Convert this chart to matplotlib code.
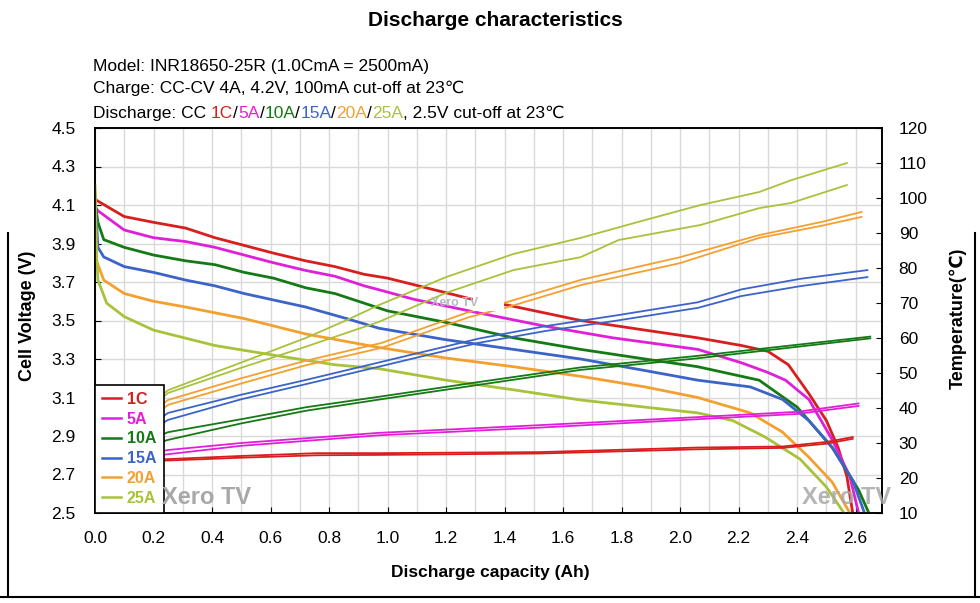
import numpy as np
import matplotlib
matplotlib.use("Agg")
import matplotlib.pyplot as plt
from matplotlib.lines import Line2D
from matplotlib.patches import Rectangle

plt.rcParams['font.family'] = ['Liberation Sans', 'DejaVu Sans']

labels = ['1C', '5A', '10A', '15A', '20A', '25A']
colors = ['#d81e1e', '#e020d8', '#157a15', '#3c64c8', '#f4a030', '#a8c23c']

# discharge voltage (Ah, V)
v1c_x = [0.0, 0.01, 0.1, 0.2, 0.31, 0.41, 0.51, 0.61, 0.72, 0.82, 0.92, 1.0, 1.29, 1.41, 1.66, 1.88, 2.06, 2.21, 2.30, 2.37, 2.44, 2.50, 2.54, 2.57, 2.59]
v1c_y = [4.13, 4.12, 4.04, 4.01, 3.98, 3.93, 3.89, 3.85, 3.81, 3.78, 3.74, 3.72, 3.61, 3.58, 3.50, 3.45, 3.41, 3.37, 3.34, 3.27, 3.12, 2.98, 2.84, 2.69, 2.50]
v5_x = [0.0, 0.01, 0.1, 0.2, 0.31, 0.41, 0.51, 0.61, 0.72, 0.82, 0.92, 0.97, 1.09, 1.31, 1.54, 1.77, 2.06, 2.21, 2.30, 2.36, 2.44, 2.52, 2.58, 2.61]
v5_y = [4.09, 4.07, 3.97, 3.93, 3.91, 3.88, 3.84, 3.80, 3.76, 3.73, 3.68, 3.66, 3.61, 3.54, 3.47, 3.41, 3.35, 3.28, 3.23, 3.19, 3.09, 2.88, 2.69, 2.50]
v10_x = [0.0, 0.01, 0.03, 0.1, 0.2, 0.31, 0.41, 0.51, 0.61, 0.72, 0.82, 0.92, 1.0, 1.2, 1.43, 1.66, 1.88, 2.06, 2.21, 2.27, 2.40, 2.52, 2.61, 2.645]
v10_y = [4.12, 4.01, 3.92, 3.88, 3.84, 3.81, 3.79, 3.75, 3.72, 3.67, 3.64, 3.59, 3.55, 3.49, 3.41, 3.35, 3.30, 3.26, 3.21, 3.19, 3.05, 2.84, 2.62, 2.50]
v15_x = [0.0, 0.01, 0.03, 0.1, 0.2, 0.31, 0.41, 0.51, 0.72, 0.86, 0.97, 1.2, 1.43, 1.66, 1.88, 2.06, 2.24, 2.35, 2.44, 2.52, 2.59, 2.63]
v15_y = [4.15, 3.88, 3.83, 3.78, 3.75, 3.71, 3.68, 3.64, 3.57, 3.51, 3.46, 3.40, 3.35, 3.30, 3.24, 3.19, 3.155, 3.09, 2.98, 2.84, 2.67, 2.50]
v20_x = [0.0, 0.005, 0.03, 0.1, 0.2, 0.31, 0.41, 0.51, 0.72, 0.97, 1.2, 1.43, 1.66, 1.88, 2.06, 2.24, 2.35, 2.44, 2.52, 2.58]
v20_y = [4.17, 3.81, 3.71, 3.64, 3.60, 3.57, 3.54, 3.51, 3.43, 3.36, 3.305, 3.26, 3.21, 3.155, 3.10, 3.02, 2.92, 2.79, 2.66, 2.50]
v25_x = [0.0, 0.005, 0.01, 0.04, 0.1, 0.2, 0.41, 0.61, 0.82, 0.97, 1.2, 1.43, 1.66, 1.88, 2.06, 2.18, 2.29, 2.41, 2.50, 2.56]
v25_y = [4.20, 3.85, 3.71, 3.59, 3.52, 3.45, 3.37, 3.32, 3.27, 3.25, 3.19, 3.14, 3.087, 3.05, 3.02, 2.98, 2.895, 2.78, 2.635, 2.50]

# cell temperature (Ah, degC), two cells per rate
t1c_x = [0.0, 0.25, 0.5, 0.76, 0.97, 1.52, 2.06, 2.35, 2.5, 2.59]
t1c_a = [24.5, 25.4, 26.3, 27.1, 27.1, 27.4, 28.7, 29.0, 30.3, 31.7]
t1c_b = [24.5, 25.0, 25.8, 26.5, 26.6, 27.0, 28.2, 28.6, 29.8, 31.2]
t5_x = [0.0, 0.25, 0.5, 0.97, 1.52, 2.06, 2.4, 2.61]
t5_a = [24.5, 28.0, 30.0, 32.9, 35.1, 37.4, 38.9, 41.3]
t5_b = [24.5, 26.8, 29.2, 32.2, 34.4, 36.8, 38.3, 40.6]
t10_x = [0.0, 0.25, 0.5, 0.72, 0.97, 1.31, 1.66, 1.88, 2.06, 2.35, 2.65]
t10_a = [24.5, 33.1, 36.8, 40.2, 43.2, 47.4, 51.6, 53.4, 54.9, 57.6, 60.4]
t10_b = [24.5, 30.9, 35.6, 39.2, 42.4, 46.6, 50.9, 52.7, 54.2, 57.0, 59.9]
t15_x = [0.0, 0.25, 0.5, 0.72, 0.97, 1.31, 1.54, 1.77, 2.06, 2.21, 2.41, 2.64]
t15_a = [24.5, 38.6, 43.8, 48.0, 53.0, 59.8, 63.4, 66.3, 70.2, 73.9, 76.9, 79.4]
t15_b = [24.5, 36.6, 42.5, 46.8, 51.8, 58.6, 62.0, 64.8, 68.6, 72.0, 74.8, 77.4]
t20_x = [0.0, 0.1, 0.25, 0.5, 0.72, 0.98, 1.28, 1.41, 1.66, 2.0, 2.27, 2.48, 2.62]
t20_a = [24.0, 33.0, 42.3, 48.5, 53.5, 58.6, 67.5, 70.3, 76.6, 83.1, 89.4, 93.1, 96.0]
t20_b = [24.0, 32.0, 40.9, 47.0, 52.2, 57.2, 66.0, 68.8, 75.1, 81.4, 88.6, 92.0, 94.6]
t25a_x = [0.0, 0.1, 0.25, 0.5, 0.72, 0.86, 0.97, 1.2, 1.43, 1.66, 1.88, 2.07, 2.27, 2.38, 2.57]
t25a_y = [26.0, 35.0, 45.1, 53.0, 60.0, 65.1, 69.4, 77.4, 84.0, 88.6, 93.7, 98.0, 101.7, 105.1, 110.0]
t25b_x = [0.0, 0.1, 0.25, 0.5, 0.72, 0.97, 1.2, 1.43, 1.66, 1.79, 2.07, 2.27, 2.38, 2.57]
t25b_y = [26.0, 34.0, 44.3, 51.5, 57.5, 64.6, 72.9, 79.4, 83.1, 88.0, 92.3, 97.1, 98.6, 103.7]

volt_x = [v1c_x, v5_x, v10_x, v15_x, v20_x, v25_x]
volt_y = [v1c_y, v5_y, v10_y, v15_y, v20_y, v25_y]
temp_sets = [
    (t1c_x, t1c_a, t1c_x, t1c_b),
    (t5_x, t5_a, t5_x, t5_b),
    (t10_x, t10_a, t10_x, t10_b),
    (t15_x, t15_a, t15_x, t15_b),
    (t20_x, t20_a, t20_x, t20_b),
    (t25a_x, t25a_y, t25b_x, t25b_y),
]

W, H = 980, 603
fig = plt.figure(figsize=(W / 100, H / 100), dpi=100)
ax = fig.add_axes([95 / W, 1 - 513 / H, 787 / W, 385 / H])
ax2 = ax.twinx()

for xs, ys, c in zip(volt_x, volt_y, colors):
    ax.plot(xs, ys, color=c, lw=2.0, zorder=3)
for (xa, ya, xb, yb), c in zip(temp_sets, colors):
    ax2.plot(xa, ya, color=c, lw=1.3)
    ax2.plot(xb, yb, color=c, lw=1.3)

ax.set_xlim(0, 2.69)
ax.set_ylim(2.5, 4.5)
ax2.set_ylim(10, 120)
ax.set_xticks(np.arange(0, 2.61, 0.2))
ax.set_xticks(np.arange(0.1, 2.7, 0.2), minor=True)
ax.set_xticklabels(['%.1f' % v for v in np.arange(0, 2.61, 0.2)])
ax.set_yticks(np.arange(2.5, 4.51, 0.2))
ax.set_yticklabels(['%.1f' % v for v in np.arange(2.5, 4.51, 0.2)])
ax2.set_yticks(np.arange(10, 121, 10))

ax.grid(True, which='both', axis='x', color='#d9d9d9', lw=1)
ax.grid(True, which='major', axis='y', color='#d9d9d9', lw=1)
ax.tick_params(axis='y', which='major', direction='in', length=4, labelsize=12.5, pad=14)
ax.tick_params(axis='x', which='major', direction='in', length=4, labelsize=12.5, pad=13)
ax.tick_params(axis='x', which='minor', length=0)
ax2.tick_params(axis='y', direction='in', length=4, labelsize=12.5, pad=12)
for a in (ax, ax2):
    for s in a.spines.values():
        s.set_color('black')
        s.set_linewidth(1.2)

# legend
handles = [Line2D([0], [0], color=c, lw=1.8) for c in colors]
leg = ax2.legend(handles, labels, loc='lower left', bbox_to_anchor=(0, 0), borderaxespad=0,
                 frameon=True, fancybox=False, edgecolor='black', framealpha=1,
                 prop={'weight': 'bold', 'size': 11.5}, handlelength=1.15, handletextpad=0.4,
                 labelspacing=0.3, borderpad=0.45)
leg.get_frame().set_linewidth(1.2)
for txt, c in zip(leg.get_texts(), colors):
    txt.set_color(c)

# watermark patches
ax2.add_patch(Rectangle((0.48, 0.525), 0.04, 0.055, transform=ax2.transAxes,
                        facecolor='white', edgecolor='none', zorder=5))
ax2.text(0.457, 0.545, 'Xero TV', transform=ax2.transAxes, fontsize=9, weight='bold',
         color='#b8b8c8', ha='center', va='center', zorder=6)
ax2.text(0.085, 0.04, 'Xero TV', transform=ax2.transAxes, fontsize=17, weight='bold',
         color='#a8a8a8', ha='left', va='center', zorder=6)
ax2.text(0.955, 0.04, 'Xero TV', transform=ax2.transAxes, fontsize=17, weight='bold',
         color='#a8a8a8', ha='center', va='center', zorder=6, alpha=0.85)

# titles and labels
fig.text(495 / W, 1 - 21 / H, 'Discharge characteristics', ha='center', va='center',
         fontsize=15, weight='bold')
fig.text(93 / W, 1 - 66 / H, 'Model: INR18650-25R (1.0CmA = 2500mA)', fontsize=12.5, va='center')
fig.text(93 / W, 1 - 88 / H, 'Charge: CC-CV 4A, 4.2V, 100mA cut-off at 23\u2103', fontsize=12.5, va='center')
prev = fig.text(93 / W, 1 - 121 / H, 'Discharge: CC ', fontsize=12.5, va='bottom')
parts = []
for i, (lab, c) in enumerate(zip(labels, colors)):
    parts.append((lab, c))
    parts.append(('/' if i < len(labels) - 1 else ', 2.5V cut-off at 23\u2103', 'black'))
for s, c in parts:
    prev = ax.annotate(s, xy=(1, 0), xycoords=prev, ha='left', va='bottom',
                       fontsize=12.5, color=c, annotation_clip=False)

fig.text(28 / W, 1 - 316 / H, 'Cell Voltage (V)', rotation=90, ha='center', va='center',
         fontsize=13, weight='bold')
fig.text(958 / W, 1 - 318 / H, 'Temperature(\u2103)', rotation=90, ha='center', va='center',
         fontsize=13, weight='bold')
fig.text(490 / W, 1 - 572 / H, 'Discharge capacity (Ah)', ha='center', va='center',
         fontsize=12.5, weight='bold')

# outer frame remnants
fig.add_artist(Line2D([8 / W, 8 / W], [1 - 597 / H, 1 - 233 / H], transform=fig.transFigure, color='black', lw=1.5))
fig.add_artist(Line2D([975 / W, 975 / W], [1 - 597 / H, 1 - 233 / H], transform=fig.transFigure, color='black', lw=1.5))
fig.add_artist(Line2D([0, 1], [1 - 597 / H, 1 - 597 / H], transform=fig.transFigure, color='black', lw=1.5))

fig.savefig('out.png', dpi=100)
